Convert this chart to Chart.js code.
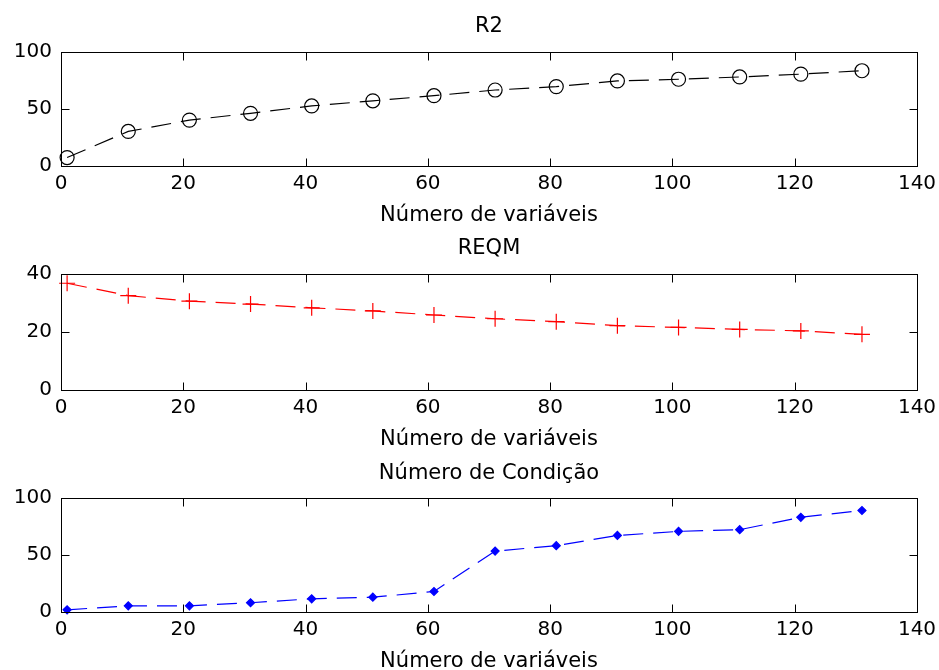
<!DOCTYPE html>
<html>
<head>
<meta charset="utf-8">
<script src="https://cdn.jsdelivr.net/npm/chart.js@4.4.1/dist/chart.umd.min.js"></script>
<style>
  html, body { margin: 0; padding: 0; background: #fff; overflow: hidden; }
  body { width: 939px; height: 670px; position: relative; }
  canvas { position: absolute; left: 0; }
</style>
</head>
<body>
<canvas id="r2" width="939" height="226" style="top:0px"></canvas>
<canvas id="reqm" width="939" height="224" style="top:226px"></canvas>
<canvas id="cond" width="939" height="222" style="top:450px"></canvas>
<script>
"use strict";

const numVars = [1, 11, 21, 31, 41, 51, 61, 71, 81, 91, 101, 111, 121, 131];
const r2Values = [7, 30, 40, 46, 52.5, 57, 61.5, 66.5, 69.5, 74.5, 76, 78, 80.5, 83.5];
const reqmValues = [36.8, 32.5, 30.6, 29.6, 28.3, 27.2, 25.8, 24.5, 23.5, 22.1, 21.5, 20.8, 20.3, 19.1];
const condValues = [1.5, 5, 5, 7.7, 11.2, 12.6, 17.6, 53.2, 58, 67, 70.6, 72.1, 83, 89];
const xTicks = [0, 20, 40, 60, 80, 100, 120, 140];
const xLabel = "Número de variáveis";

const FONT = "'DejaVu Sans', sans-serif";

// MATLAB-like box with inward ticks on all four sides
const boxPlugin = {
    id: "box",
    afterDraw(chart) {
        const ctx = chart.ctx;
        const a = chart.chartArea;
        const L = Math.round(a.left) + 0.5, R = Math.round(a.right) + 0.5;
        const T = Math.round(a.top) + 0.5, B = Math.round(a.bottom) + 0.5;
        const len = 8;
        ctx.save();
        ctx.strokeStyle = "#000";
        ctx.lineWidth = 1;
        ctx.strokeRect(L, T, R - L, B - T);
        ctx.beginPath();
        chart.scales.x.ticks.forEach(function(t) {
            const px = Math.round(chart.scales.x.getPixelForValue(t.value)) + 0.5;
            ctx.moveTo(px, B); ctx.lineTo(px, B - len);
            ctx.moveTo(px, T); ctx.lineTo(px, T + len);
        });
        chart.scales.y.ticks.forEach(function(t) {
            const py = Math.round(chart.scales.y.getPixelForValue(t.value)) + 0.5;
            ctx.moveTo(L, py); ctx.lineTo(L + len, py);
            ctx.moveTo(R, py); ctx.lineTo(R - len, py);
        });
        ctx.stroke();
        ctx.restore();
    }
};

function makeChart(id, title, values, yMax, yStep, style, titlePad) {
    return new Chart(document.getElementById(id), {
        "type": "line",
        "data": {
            "datasets": [{
                "data": numVars.map((x, i) => ({ x: x, y: values[i] })),
                "borderColor": style.color,
                "borderWidth": 1.2,
                "borderDash": [20, 10],
                "pointStyle": style.point,
                "pointRadius": style.radius,
                "pointBorderColor": style.color,
                "pointBackgroundColor": style.fill,
                "pointBorderWidth": 1.2,
                "tension": 0,
                "clip": false
            }]
        },
        "options": {
            "responsive": false,
            "animation": false,
            "events": [],
            "layout": { "padding": { "left": 0, "right": 22, "top": 0, "bottom": 0 } },
            "plugins": {
                "legend": { "display": false },
                "tooltip": { "enabled": false },
                "title": {
                    "display": true,
                    "fullSize": false,
                    "text": title,
                    "color": "#000",
                    "font": { "family": FONT, "size": 21, "weight": "normal", "lineHeight": 1 },
                    "padding": titlePad
                }
            },
            "scales": {
                "x": {
                    "type": "linear",
                    "min": 0,
                    "max": 140,
                    "afterBuildTicks": function(scale) { scale.ticks = xTicks.map(v => ({ value: v })); },
                    "afterFit": function(scale) {
                        scale.height = 60.5;
                        scale.paddingLeft = 0;
                        scale.paddingRight = 0;
                    },
                    "grid": { "display": false, "drawTicks": false },
                    "border": { "display": false },
                    "ticks": { "color": "#000", "padding": 6, "maxRotation": 0,
                               "font": { "family": FONT, "size": 20 } },
                    "title": {
                        "display": true,
                        "text": xLabel,
                        "color": "#000",
                        "font": { "family": FONT, "size": 21, "lineHeight": 1 },
                        "padding": { "top": 8, "bottom": 0 }
                    }
                },
                "y": {
                    "min": 0,
                    "max": yMax,
                    "afterFit": function(scale) { scale.width = 61; },
                    "grid": { "display": false, "drawTicks": false },
                    "border": { "display": false },
                    "ticks": { "color": "#000", "padding": 9, "stepSize": yStep,
                               "font": { "family": FONT, "size": 20 } }
                }
            }
        },
        "plugins": [boxPlugin]
    });
}

makeChart("r2", "R2", r2Values, 100, 50,
    { color: "#000000", point: "circle", radius: 7, fill: "rgba(0,0,0,0)" },
    { top: 16.5, bottom: 14.5 });
makeChart("reqm", "REQM", reqmValues, 40, 20,
    { color: "#ff0000", point: "cross", radius: 8, fill: "#ff0000" },
    { top: 12.5, bottom: 14.5 });
makeChart("cond", "Número de Condição", condValues, 100, 50,
    { color: "#0000ff", point: "rectRot", radius: 4, fill: "#0000ff" },
    { top: 13, bottom: 14 });
</script>
</body>
</html>
